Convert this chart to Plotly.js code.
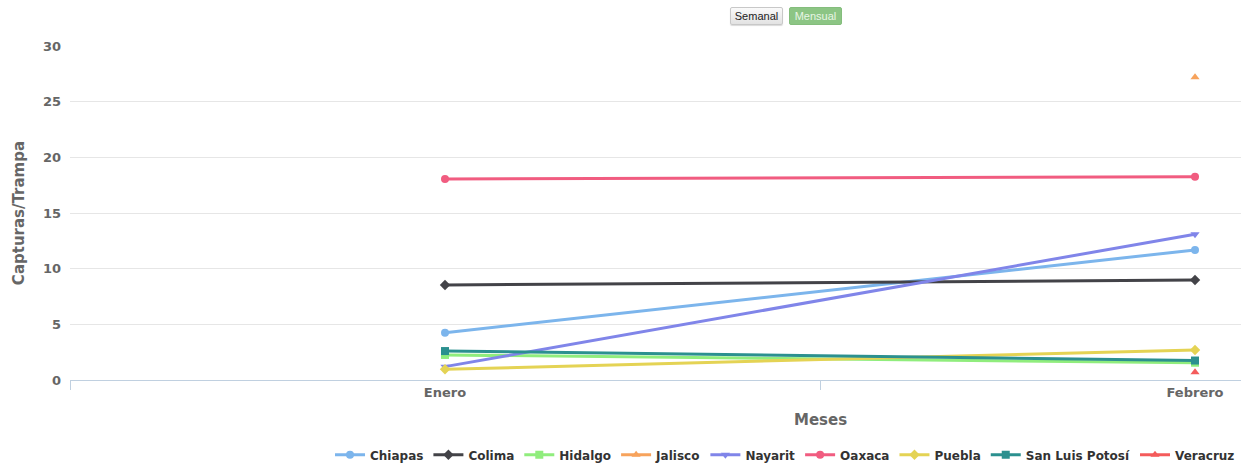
<!DOCTYPE html>
<html>
<head>
<meta charset="utf-8">
<script src="https://cdn.plot.ly/plotly-3.0.1.min.js"></script>
<style>
html,body{margin:0;padding:0;background:#fff;}
#wrap{position:relative;width:1241px;height:468px;overflow:hidden;}
#chart{position:absolute;left:0;top:0;width:1241px;height:468px;}
.btn{position:absolute;top:7px;height:18px;font-family:"Liberation Sans",Arial,sans-serif;font-size:11px;line-height:17px;text-align:center;border-radius:2px;box-sizing:border-box;z-index:5;}
#b1{left:730px;width:53px;background:linear-gradient(#fafafa,#e2e2e2);border:1px solid #c8c8c8;color:#222;box-shadow:0 1px 1px rgba(0,0,0,0.15);}
#b2{left:789px;width:53px;background:#8cc584;border:1px solid #84bd7c;color:#e8f5e4;}
</style>
</head>
<body>
<div id="wrap">
<div id="chart"></div>
<div class="btn" id="b1">Semanal</div>
<div class="btn" id="b2">Mensual</div>
</div>
<script>
var months = ['Enero', 'Febrero'];
var chiapas = [4.25, 11.68];
var colima = [8.53, 8.98];
var hidalgo = [2.25, 1.55];
var jalisco = [null, 27.2];
var nayarit = [1.2, 13.1];
var oaxaca = [18.06, 18.25];
var puebla = [0.96, 2.7];
var slp = [2.6, 1.75];
var veracruz = [null, 0.7];

var seriesNames = ['Chiapas','Colima','Hidalgo','Jalisco','Nayarit','Oaxaca','Puebla','San Luis Potosí','Veracruz'];
var seriesData = [chiapas, colima, hidalgo, jalisco, nayarit, oaxaca, puebla, slp, veracruz];
var colors = ['#7cb5ec','#434348','#90ed7d','#f7a35c','#8085e9','#f15c80','#e4d354','#2b908f','#f45b5b'];
var symbols = ['circle','diamond','square','triangle-up','triangle-down','circle','diamond','square','triangle-up'];

var traces = seriesNames.map(function(n, i){
  return {
    type: 'scatter', mode: 'lines+markers', name: n,
    x: months, y: seriesData[i],
    line: {color: colors[i], width: 3},
    marker: {color: colors[i], symbol: symbols[i], size: 8},
    connectgaps: false, cliponaxis: false
  };
});

var font = "'DejaVu Sans', 'Lucida Grande', sans-serif";
var layout = {
  width: 1241, height: 468,
  margin: {l: 70, r: 0, t: 46, b: 88, autoexpand: false},
  paper_bgcolor: '#fff', plot_bgcolor: '#fff',
  showlegend: true,
  legend: {orientation: 'h', x: 0.6106, xanchor: 'center', y: -0.224, yanchor: 'middle',
           font: {family: font, size: 12, color: '#333', weight: 'bold'}, itemwidth: 30, tracegroupgap: 0},
  xaxis: {
    type: 'category', categoryorder: 'array', categoryarray: months,
    range: [-0.5, 1.0613], tickson: 'boundaries', ticks: 'outside', ticklen: 9, tickcolor: '#c0d0e0',
    showgrid: false, showline: true, linecolor: '#c0d0e0', linewidth: 1, zeroline: false,
    tickfont: {family: font, size: 13, color: '#666', weight: 'bold'}, fixedrange: true
  },
  yaxis: {
    range: [0, 30], dtick: 5, tick0: 0, showgrid: true, gridcolor: '#e6e6e6', zeroline: false,
    showline: false, ticks: '', ticklabelstandoff: 8,
    tickfont: {family: font, size: 13, color: '#666', weight: 'bold'},
    title: {text: 'Capturas/Trampa', font: {family: font, size: 15, color: '#666', weight: 'bold'}, standoff: 14},
    fixedrange: true
  },
  annotations: [{
    text: 'Meses', xref: 'paper', yref: 'paper', x: 0.6405, y: -0.12, xanchor: 'center', yanchor: 'middle',
    showarrow: false, font: {family: font, size: 15, color: '#666', weight: 'bold'}
  }]
};
Plotly.newPlot('chart', traces, layout, {displayModeBar: false, staticPlot: true});
</script>
</body>
</html>
